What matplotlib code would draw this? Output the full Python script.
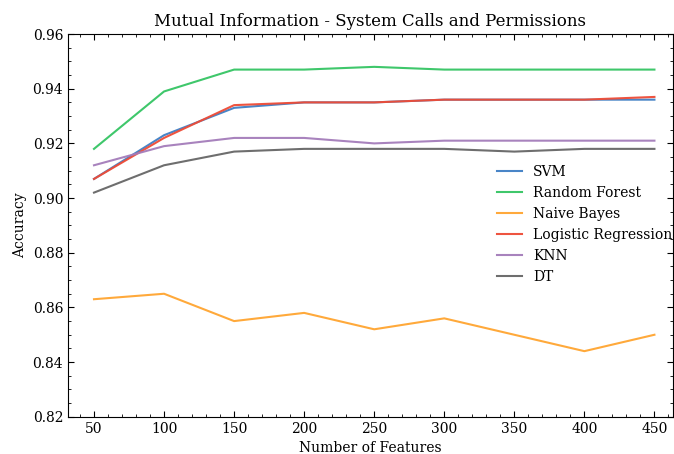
import matplotlib.pyplot as plt
from matplotlib.ticker import MultipleLocator

features = [50, 100, 150, 200, 250, 300, 350, 400, 450]

svm = [0.907, 0.923, 0.933, 0.935, 0.935, 0.936, 0.936, 0.936, 0.936]
random_forest = [0.918, 0.939, 0.947, 0.947, 0.948, 0.947, 0.947, 0.947, 0.947]
naive_bayes = [0.863, 0.865, 0.855, 0.858, 0.852, 0.856, 0.850, 0.844, 0.850]
logistic = [0.907, 0.922, 0.934, 0.935, 0.935, 0.936, 0.936, 0.936, 0.937]
knn = [0.912, 0.919, 0.922, 0.922, 0.920, 0.921, 0.921, 0.921, 0.921]
dt = [0.902, 0.912, 0.917, 0.918, 0.918, 0.918, 0.917, 0.918, 0.918]

plt.rcParams['font.family'] = ['DejaVu Serif']

fig, ax = plt.subplots(figsize=(6.74, 4.54), dpi=100)
fig.subplots_adjust(left=0.101, right=0.998, top=0.925, bottom=0.082)

ax.plot(features, svm, color='#3f7fc4', lw=1.5, alpha=0.95, label='SVM')
ax.plot(features, random_forest, color='#34c463', lw=1.5, alpha=0.95, label='Random Forest')
ax.plot(features, naive_bayes, color='#ffa530', lw=1.5, alpha=0.95, label='Naive Bayes')
ax.plot(features, logistic, color='#ee4b36', lw=1.5, alpha=0.95, label='Logistic Regression')
ax.plot(features, knn, color='#a47cba', lw=1.5, alpha=0.95, label='KNN')
ax.plot(features, dt, color='#666666', lw=1.5, alpha=0.95, label='DT')

ax.set_xlim(31.5, 463)
ax.set_ylim(0.82, 0.96)
ax.xaxis.set_major_locator(MultipleLocator(50))
ax.xaxis.set_minor_locator(MultipleLocator(10))
ax.yaxis.set_major_locator(MultipleLocator(0.02))
ax.yaxis.set_minor_locator(MultipleLocator(0.005))
ax.tick_params(which='both', direction='in', top=True, right=True, labelsize=10)
ax.tick_params(which='major', length=4)
ax.tick_params(which='minor', length=2)

ax.set_xlabel('Number of Features', fontsize=10)
ax.set_ylabel('Accuracy', fontsize=10)
ax.set_title('Mutual Information - System Calls and Permissions', fontsize=12)
ax.legend(frameon=False, loc='center right', bbox_to_anchor=(1.02, 0.502),
          fontsize=10, handlelength=1.8)

fig.savefig('out.png', dpi=100)
